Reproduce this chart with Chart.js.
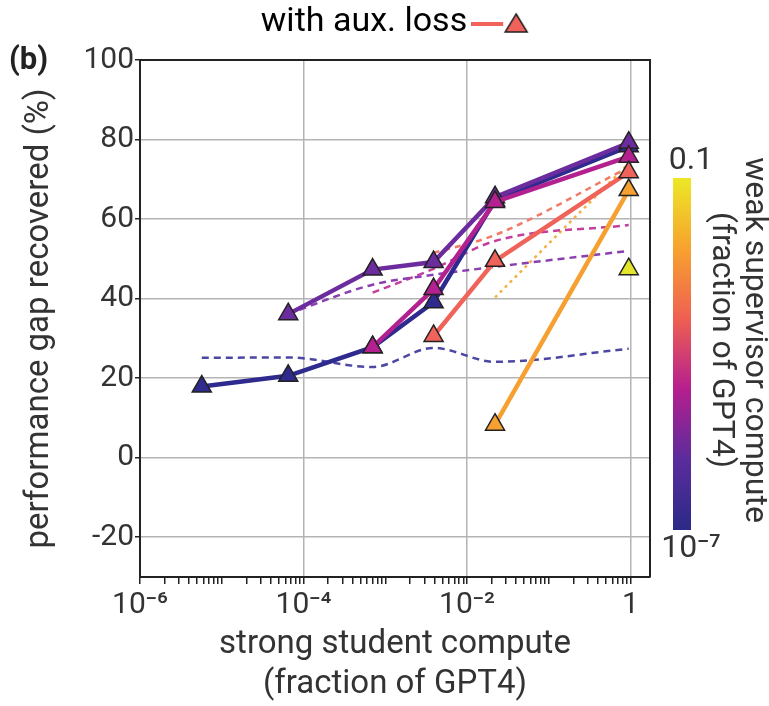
<!DOCTYPE html>
<html>
<head>
<meta charset="utf-8">
<script src="https://cdn.jsdelivr.net/npm/chart.js@4.4.1/dist/chart.umd.min.js"></script>
<style>
  html, body { margin: 0; padding: 0; background: #fff; }
  #wrap { width: 769px; height: 706px; }
</style>
</head>
<body>
<div id="wrap"><canvas id="chart"></canvas></div>
<script>
// strong student compute (fraction of GPT4)
const studentCompute = [5.7e-6, 6.5e-5, 7.0e-4, 3.9e-3, 2.2e-2, 0.95];

// with aux. loss (solid lines), one series per weak supervisor size
const auxNavy    = [17.9, 20.6, 27.8, 39.1, 64.7, 78.3];
const auxPurple  = [null, 36.1, 47.3, 49.2, 65.5, 79.2];
const auxMagenta = [null, null, 27.8, 42.4, 64.3, 75.7];
const auxCoral   = [null, null, null, 30.6, 49.5, 71.8];
const auxOrange  = [null, null, null, null, 8.3, 67.3];
const auxYellow  = [null, null, null, null, null, 47.4];

// without aux. loss (thin dashed lines)
const baseNavy    = [25.1, 25.2, 22.8, 27.6, 24.1, 27.4];
const basePurple  = [null, 36.2, 43.5, 46.0, 48.0, 52.0];
const baseMagenta = [null, null, 41.5, 47.5, 54.5, 58.5];
const baseCoral   = [null, null, null, 51.5, 56.0, 73.0];
const baseOrange  = [null, null, null, null, 40.3, 74.0];

// axes
const xTickValues = [1e-6, 1e-4, 1e-2, 1];
const xTickLabels = ['10\u207B\u2076', '10\u207B\u2074', '10\u207B\u00B2', '1'];
const yTickValues = [-20, 0, 20, 40, 60, 80, 100];

// colour bar (weak supervisor compute)
const colorbarLabels = ['10\u207B\u2077', '0.1'];
const colorbarStops = ['#2b2a87', '#5b2c9c', '#b51f8f', '#ef5f52', '#f7a22e', '#ece826'];

const colors = {
  navy: '#2f2b8e', purple: '#6c2c9e', magenta: '#b3208f',
  coral: '#f0635a', orange: '#f6a032', yellow: '#e2e52a'
};
const dashColors = {
  navy: '#4b47a3', purple: '#8a3fb0', magenta: '#c43f9c',
  coral: '#f27a66', orange: '#f5b044'
};

const FONT = 'Roboto, "Noto Sans", sans-serif';

function toPoints(values) {
  return values.map((v, i) => v == null ? null : { x: studentCompute[i], y: v }).filter(p => p);
}

function solid(key, values, order) {
  return {
    data: toPoints(values),
    borderColor: colors[key],
    backgroundColor: colors[key],
    borderWidth: 4.5,
    pointStyle: 'triangle',
    pointRadius: 11,
    pointBackgroundColor: colors[key],
    pointBorderColor: '#222',
    pointBorderWidth: 1.5,
    tension: 0,
    order: order
  };
}

function dashed(key, values, dash) {
  return {
    data: toPoints(values),
    borderColor: dashColors[key],
    borderWidth: 2.5,
    borderDash: dash,
    pointRadius: 0,
    cubicInterpolationMode: 'monotone',
    order: 20
  };
}

// line + triangle legend marker (wider than its box so it sits close to the text)
function legendIcon() {
  const c = document.createElement('canvas');
  c.width = 70; c.height = 30;
  const g = c.getContext('2d');
  g.strokeStyle = colors.coral;
  g.lineWidth = 4;
  g.beginPath(); g.moveTo(0, 17); g.lineTo(32, 17); g.stroke();
  g.fillStyle = colors.coral;
  g.strokeStyle = '#222';
  g.lineWidth = 1.5;
  g.beginPath(); g.moveTo(45, 7); g.lineTo(56, 25); g.lineTo(34, 25); g.closePath();
  g.fill(); g.stroke();
  return c;
}

// box, colour bar and panel letter
const decorations = {
  id: 'decorations',
  beforeDatasetsDraw(chart) {
    const { ctx, chartArea: a } = chart;
    ctx.save();
    ctx.strokeStyle = '#222';
    ctx.lineWidth = 2;
    ctx.beginPath();
    ctx.moveTo(a.left, a.top); ctx.lineTo(a.right, a.top); ctx.lineTo(a.right, a.bottom);
    ctx.stroke();
    ctx.restore();
  },
  afterDraw(chart) {
    const { ctx, chartArea: a } = chart;
    ctx.save();
    // panel letter
    ctx.fillStyle = '#222';
    ctx.font = 'bold 31px ' + FONT;
    ctx.textAlign = 'left';
    ctx.textBaseline = 'middle';
    ctx.fillText('(b)', 9, a.top + 1);

    // colour bar
    const bx = a.right + 23, bw = 18, top = 178, bottom = 530;
    const grad = ctx.createLinearGradient(0, bottom, 0, top);
    colorbarStops.forEach((c, i) => grad.addColorStop(i / (colorbarStops.length - 1), c));
    ctx.fillStyle = grad;
    ctx.fillRect(bx, top, bw, bottom - top);

    ctx.fillStyle = '#333';
    ctx.font = '32px ' + FONT;
    ctx.textAlign = 'center';
    ctx.textBaseline = 'bottom';
    ctx.fillText(colorbarLabels[1], bx + bw / 2 + 9, top - 1);
    ctx.textBaseline = 'top';
    ctx.fillText(colorbarLabels[0], bx + bw / 2 + 9, bottom + 3);

    // colour bar title, rotated
    ctx.font = '32px ' + FONT;
    ctx.translate(a.right + 92, 340);
    ctx.rotate(Math.PI / 2);
    ctx.textAlign = 'center';
    ctx.textBaseline = 'middle';
    ctx.fillText('weak supervisor compute', 0, -12);
    ctx.fillText('(fraction of GPT4)', 0, 21);
    ctx.restore();
  }
};

new Chart(document.getElementById('chart'), {
  type: 'line',
  data: {
    datasets: [
      dashed('navy', baseNavy, [7, 5]),
      dashed('purple', basePurple, [7, 5]),
      dashed('magenta', baseMagenta, [7, 5]),
      dashed('coral', baseCoral, [6, 5]),
      dashed('orange', baseOrange, [3, 4]),
      solid('navy', auxNavy, 6),
      solid('purple', auxPurple, 5),
      solid('magenta', auxMagenta, 4),
      solid('coral', auxCoral, 3),
      solid('orange', auxOrange, 2),
      solid('yellow', auxYellow, 1)
    ]
  },
  options: {
    responsive: true,
    maintainAspectRatio: false,
    animation: false,
    events: [],
    layout: { padding: { top: 1, left: 20, right: 0, bottom: 0 } },
    scales: {
      x: {
        type: 'logarithmic',
        min: 1e-6,
        max: 1.73,
        afterBuildTicks(scale) {
          const ticks = [];
          for (let e = -6; e <= 0; e++) {
            for (let m = 1; m <= 9; m++) {
              const v = m * Math.pow(10, e);
              if (v <= 1.0000001) ticks.push({ value: v });
            }
          }
          scale.ticks = ticks;
        },
        afterFit(scale) { scale.height = 129; },
        ticks: {
          autoSkip: false,
          maxRotation: 0,
          padding: 3,
          color: '#333',
          font: { family: FONT, size: 30 },
          callback(val) {
            const i = xTickValues.findIndex(t => Math.abs(Math.log10(val) - Math.log10(t)) < 1e-6);
            return i >= 0 ? xTickLabels[i] : '';
          }
        },
        grid: {
          color(ctx) {
            const v = ctx.tick && ctx.tick.value;
            const major = xTickValues.some(t => Math.abs(Math.log10(v) - Math.log10(t)) < 1e-6);
            return major && v > 1.5e-6 ? '#b4b4b4' : 'rgba(0,0,0,0)';
          },
          lineWidth: 1.5,
          tickColor: '#222',
          tickLength: 7,
          tickWidth: 1.5
        },
        border: { color: '#222', width: 2 },
        title: {
          display: true,
          text: ['strong student compute', '(fraction of GPT4)'],
          color: '#333',
          font: { family: FONT, size: 33, lineHeight: 1.21 },
          padding: { top: 0, bottom: 1 }
        }
      },
      xgap: {
        type: 'linear',
        position: 'top',
        display: true,
        afterFit(scale) { scale.height = 11; },
        ticks: { display: false },
        grid: { display: false, drawTicks: false },
        border: { display: false }
      },
      y: {
        type: 'linear',
        min: -30,
        max: 100,
        afterBuildTicks(scale) { scale.ticks = yTickValues.map(v => ({ value: v })); },
        afterFit(scale) { scale.width = 120; },
        ticks: {
          color: '#333',
          padding: 1,
          font: { family: FONT, size: 30 }
        },
        grid: {
          color: '#b4b4b4',
          lineWidth: 1.5,
          tickColor: '#222',
          tickLength: 5,
          tickWidth: 1.5
        },
        border: { color: '#222', width: 2 },
        title: {
          display: true,
          text: 'performance gap recovered (%)',
          color: '#333',
          font: { family: FONT, size: 33 },
          padding: { top: 0, bottom: 0 }
        }
      },
      cbar: {
        type: 'linear',
        position: 'right',
        display: true,
        afterFit(scale) { scale.width = 119; },
        ticks: { display: false },
        grid: { display: false, drawTicks: false },
        border: { display: false }
      }
    },
    plugins: {
      tooltip: { enabled: false },
      legend: {
        display: true,
        position: 'top',
        align: 'center',
        rtl: true,
        labels: {
          usePointStyle: true,
          pointStyleWidth: 44,
          color: '#333',
          font: { family: FONT, size: 34 },
          padding: 4,
          generateLabels: () => [{
            text: 'with aux. loss',
            pointStyle: legendIcon(),
            fillStyle: 'rgba(0,0,0,0)',
            strokeStyle: 'rgba(0,0,0,0)',
            lineWidth: 0,
            hidden: false,
            datasetIndex: 8
          }]
        }
      }
    }
  },
  plugins: [decorations]
});
</script>
</body>
</html>
